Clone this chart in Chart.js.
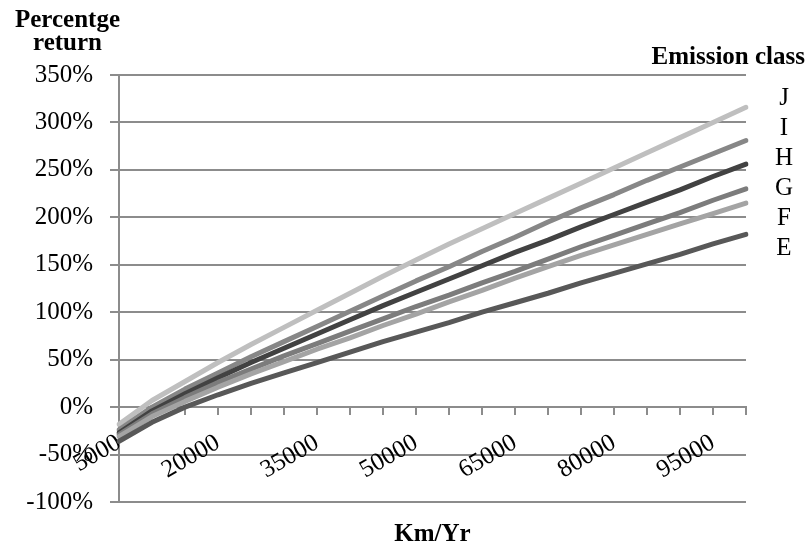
<!DOCTYPE html>
<html>
<head>
<meta charset="utf-8">
<script src="https://cdn.jsdelivr.net/npm/chart.js@4/dist/chart.umd.min.js"></script>
<style>
  html, body { margin: 0; padding: 0; background: #ffffff; }
  #wrap { width: 810px; height: 552px; }
</style>
</head>
<body>
<div id="wrap"><canvas id="c" width="810" height="552"></canvas></div>
<script>
// Categories (Km/Yr)
const categories = [5000, 10000, 15000, 20000, 25000, 30000, 35000, 40000, 45000, 50000,
                    55000, 60000, 65000, 70000, 75000, 80000, 85000, 90000, 95000, 100000];

// Percentage return per emission class
const seriesJ = [-18, 7, 27, 47, 66, 84, 102, 120, 138, 155, 172, 188, 204, 220, 236, 252, 268, 284, 300, 316];
const seriesI = [-24, 0, 19, 36, 53, 69, 85, 101, 117, 133, 148, 164, 179, 195, 210, 224, 239, 253, 267, 281];
const seriesH = [-27, -4, 14, 31, 47, 62, 77, 92, 107, 121, 135, 149, 163, 176, 190, 203, 216, 229, 243, 256];
const seriesG = [-29, -7, 10, 26, 40, 54, 67, 80, 93, 106, 118, 131, 143, 156, 169, 181, 193, 205, 218, 230];
const seriesF = [-31, -10, 6, 21, 35, 48, 61, 73, 86, 98, 111, 123, 136, 148, 160, 171, 182, 193, 204, 215];
const seriesE = [-36, -16, 0, 13, 25, 36, 47, 58, 69, 79, 89, 100, 110, 120, 131, 141, 151, 161, 172, 182];

const classLabels = ['J', 'I', 'H', 'G', 'F', 'E'];
const yTitleLines = ['Percentge', 'return'];
const legendTitle = 'Emission class';
const xTitle = 'Km/Yr';

const yMin = -100, yMax = 350, yStep = 50;

const FONT = '"Liberation Serif", "Times New Roman", serif';
const GRID = '#8c8c8c';

const textPlugin = {
  id: 'extraText',
  afterDraw(chart) {
    const ctx = chart.ctx;
    const area = chart.chartArea;
    ctx.save();
    ctx.fillStyle = '#000';
    ctx.textBaseline = 'alphabetic';
    ctx.font = 'bold 25px ' + FONT;
    ctx.textAlign = 'center';
    ctx.fillText(yTitleLines[0], 67.5, 27);
    ctx.fillText(yTitleLines[1], 67.5, 50);
    ctx.textAlign = 'right';
    ctx.fillText(legendTitle, 805, 64);
    ctx.textAlign = 'center';
    ctx.fillText(xTitle, (area.left + area.right) / 2, 541);
    ctx.font = '25px ' + FONT;
    ctx.textAlign = 'center';
    classLabels.forEach((t, i) => {
      ctx.fillText(t, 784, 105 + i * 30);
    });
    ctx.restore();
  }
};

function ds(label, data, color) {
  return {
    label, data,
    borderColor: color,
    backgroundColor: color,
    borderWidth: 5,
    pointRadius: 0,
    pointHoverRadius: 0,
    tension: 0,
    fill: false,
    borderCapStyle: 'round',
    borderJoinStyle: 'round'
  };
}

new Chart(document.getElementById('c'), {
  type: 'line',
  data: {
    labels: categories,
    datasets: [
      ds('E', seriesE, '#585858'),
      ds('F', seriesF, '#a4a4a4'),
      ds('G', seriesG, '#7c7c7c'),
      ds('H', seriesH, '#424242'),
      ds('I', seriesI, '#878787'),
      ds('J', seriesJ, '#bfbfbf')
    ]
  },
  options: {
    responsive: false,
    devicePixelRatio: 1,
    animation: false,
    layout: { padding: { top: 75, bottom: 50, right: 64, left: 0 } },
    plugins: {
      legend: { display: false },
      title: { display: false },
      tooltip: { enabled: false }
    },
    scales: {
      y: {
        type: 'linear',
        min: yMin,
        max: yMax,
        afterFit(scale) { scale.width = 119; },
        ticks: {
          stepSize: yStep,
          padding: 17,
          color: '#000',
          font: { family: FONT, size: 25 },
          callback: (v) => v + '%'
        },
        grid: { color: GRID, lineWidth: 2, tickLength: 9, drawTicks: true },
        border: { display: true, color: GRID, width: 2 }
      },
      x: {
        type: 'category',
        position: { y: 0 },
        offset: false,
        ticks: {
          autoSkip: false,
          minRotation: 30,
          maxRotation: 30,
          padding: 14,
          color: '#000',
          font: { family: FONT, size: 25 },
          callback: function(value, index) {
            return index % 3 === 0 ? String(categories[index]) : '';
          }
        },
        grid: { display: true, drawOnChartArea: false, drawTicks: true, tickLength: 7, color: GRID, lineWidth: 2 },
        border: { display: true, color: GRID, width: 2 }
      }
    }
  },
  plugins: [textPlugin]
});
</script>
</body>
</html>
